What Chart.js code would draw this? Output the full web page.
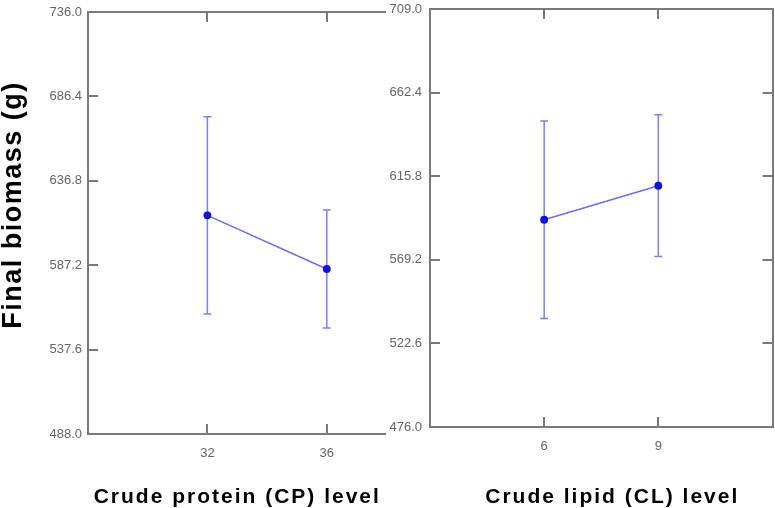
<!DOCTYPE html>
<html>
<head>
<meta charset="utf-8">
<script src="https://cdn.jsdelivr.net/npm/chart.js@4/dist/chart.umd.min.js"></script>
<style>
  body { margin: 0; background: #fff; }
  #wrap { position: relative; width: 775px; height: 508px; overflow: hidden; }
  canvas { position: absolute; top: 0; background: #fff; }
  #left { left: 0; }
  #right { left: 386px; }
</style>
</head>
<body>
<div id="wrap">
  <canvas id="left" width="392" height="508"></canvas>
  <canvas id="right" width="392" height="508"></canvas>
</div>
<script>
// crude protein panel
const cpLevels = [32, 36];
const cpMean = [616.5, 585.0];
const cpErr = [58.0, 34.7];
const cpYTicks = [488.0, 537.6, 587.2, 636.8, 686.4, 736.0];

// crude lipid panel
const clLevels = [6, 9];
const clMean = [591.5, 610.5];
const clErr = [55.0, 39.5];
const clYTicks = [476.0, 522.6, 569.2, 615.8, 662.4, 709.0];

const axisGrey = '#7a7a7a';
const tickFont = { family: "'Liberation Sans', Arial, sans-serif", size: 13 };

const errorBars = {
  id: 'errorBars',
  beforeDatasetsDraw(chart) {
    const ctx = chart.ctx;
    const ys = chart.scales.y;
    chart.data.datasets.forEach((ds, i) => {
      const meta = chart.getDatasetMeta(i);
      meta.data.forEach((pt, j) => {
        const v = ds.data[j].y, e = ds.errors[j];
        const top = ys.getPixelForValue(v + e);
        const bot = ys.getPixelForValue(v - e);
        ctx.save();
        ctx.strokeStyle = '#8080ff';
        ctx.lineWidth = 1.5;
        ctx.beginPath();
        ctx.moveTo(pt.x, top); ctx.lineTo(pt.x, bot);
        ctx.moveTo(pt.x - 4, top); ctx.lineTo(pt.x + 4, top);
        ctx.moveTo(pt.x - 4, bot); ctx.lineTo(pt.x + 4, bot);
        ctx.stroke();
        ctx.restore();
      });
    });
  }
};

const titles = {
  id: 'titles',
  afterDraw(chart, args, opts) {
    const ctx = chart.ctx;
    const a = chart.chartArea;
    ctx.save();
    ctx.fillStyle = '#000';
    ctx.textAlign = 'center';
    ctx.textBaseline = 'middle';
    ctx.font = "bold 21px 'Liberation Sans', Arial, sans-serif";
    ctx.letterSpacing = '2px';
    ctx.fillText(opts.x, (a.left + a.right) / 2 + opts.xShift, 497);
    if (opts.y) {
      ctx.font = "bold 27px 'Liberation Sans', Arial, sans-serif";
      ctx.letterSpacing = '1.5px';
      ctx.translate(14, 205);
      ctx.rotate(-Math.PI / 2);
      ctx.fillText(opts.y, 0, 0);
    }
    ctx.restore();
  }
};

// fixed box size, and no label overhang padding
function fixed(size, prop) {
  return scale => {
    scale[prop] = size;
    scale.paddingTop = 0; scale.paddingBottom = 0;
    scale.paddingLeft = 0; scale.paddingRight = 0;
  };
}

function makeChart(id, levels, mean, err, yTicks, xMin, xMax, sizes, xTitle, yTitle, xShift) {
  const ticksFrom = arr => scale => { scale.ticks = arr.map(v => ({ value: v })); };
  const inner = { display: true, drawOnChartArea: false, drawTicks: true, tickLength: -10, color: axisGrey, lineWidth: 2 };
  const border = { display: true, color: axisGrey, width: 2 };
  const scales = {
    x: {
      type: 'linear', position: 'bottom', min: xMin, max: xMax,
      grid: inner, border: border,
      afterBuildTicks: ticksFrom(levels), afterFit: fixed(sizes.bottom, 'height'),
      ticks: { color: '#666', font: tickFont, padding: 22, maxRotation: 0, callback: v => String(v) }
    },
    x2: {
      type: 'linear', position: 'top', min: xMin, max: xMax,
      grid: inner, border: border,
      afterBuildTicks: ticksFrom(levels), afterFit: fixed(0, 'height'),
      ticks: { display: false }
    },
    y: {
      type: 'linear', position: 'left', min: yTicks[0], max: yTicks[yTicks.length - 1],
      grid: inner, border: border,
      afterBuildTicks: ticksFrom(yTicks), afterFit: fixed(sizes.left, 'width'),
      ticks: { color: '#666', font: tickFont, padding: sizes.labelPad, callback: v => v.toFixed(1) }
    }
  };
  if (sizes.rightAxis) {
    scales.y2 = {
      type: 'linear', position: 'right', min: yTicks[0], max: yTicks[yTicks.length - 1],
      grid: inner, border: border,
      afterBuildTicks: ticksFrom(yTicks), afterFit: fixed(0, 'width'),
      ticks: { display: false }
    };
  }
  return new Chart(document.getElementById(id), {
    type: 'line',
    data: {
      datasets: [{
        data: levels.map((x, i) => ({ x: x, y: mean[i] })),
        errors: err,
        borderColor: '#6e6ef8',
        borderWidth: 1.5,
        pointBackgroundColor: '#1010e0',
        pointBorderColor: '#1010e0',
        pointRadius: 3.2,
        tension: 0
      }]
    },
    options: {
      responsive: false,
      animation: false,
      layout: { padding: { left: 0, top: sizes.top, right: sizes.right, bottom: 0 } },
      plugins: {
        legend: { display: false },
        tooltip: { enabled: false },
        titles: { x: xTitle, y: yTitle, xShift: xShift }
      },
      scales: scales
    },
    plugins: [errorBars, titles]
  });
}

makeChart('left', cpLevels, cpMean, cpErr, cpYTicks, 28, 38,
  { left: 88, top: 12, right: 1, bottom: 74, labelPad: 16, rightAxis: false },
  'Crude protein (CP) level', 'Final biomass (g)', 0);

makeChart('right', clLevels, clMean, clErr, clYTicks, 3, 12,
  { left: 44, top: 9, right: 2, bottom: 81, labelPad: 18, rightAxis: true },
  'Crude lipid (CL) level', null, 11);
</script>
</body>
</html>
